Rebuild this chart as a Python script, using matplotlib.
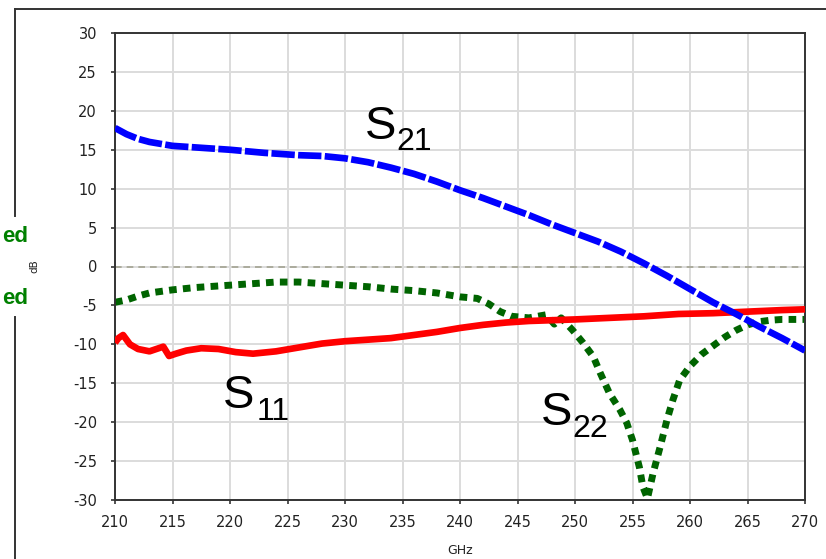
import matplotlib

matplotlib.use("Agg")
import matplotlib.pyplot as plt
from matplotlib.lines import Line2D

# S21 (blue, dashed)
s21_f = [210, 211, 212, 213, 215, 217, 220, 223, 226, 228, 230, 232, 234, 236,
         238, 240, 242, 244, 246, 248, 250, 252, 254, 256, 258, 260, 262, 264,
         266, 268, 270]
s21_db = [17.8, 17.0, 16.4, 16.0, 15.5, 15.3, 15.0, 14.6, 14.3, 14.2, 13.9, 13.4,
          12.7, 11.9, 10.9, 9.8, 8.8, 7.7, 6.6, 5.4, 4.3, 3.2, 1.9, 0.4, -1.2,
          -2.9, -4.6, -6.1, -7.7, -9.2, -10.8]

# S11 (red, solid)
s11_f = [210, 210.3, 210.7, 211.3, 212, 213, 214.2, 214.7, 215.3, 216.2, 217.5,
         219, 220.5, 222, 224, 226, 228, 230, 232, 234, 236, 238, 240, 242, 244,
         246, 248, 250, 253, 256, 259, 262, 265, 268, 270]
s11_db = [-9.8, -9.2, -8.8, -10.0, -10.6, -10.9, -10.3, -11.5, -11.2, -10.8, -10.5,
          -10.6, -11.0, -11.2, -10.9, -10.4, -9.9, -9.6, -9.4, -9.2, -8.8, -8.4, -7.9,
          -7.5, -7.2, -7.0, -6.9, -6.8, -6.6, -6.4, -6.1, -6.0, -5.8, -5.6, -5.5]

# S22 (green, dotted)
s22_f = [210, 211, 212, 213, 215, 217, 220, 222, 224, 226, 228, 230, 232, 234,
         236, 238, 240, 241.5, 242.5, 243.5, 244.5, 246, 247.5, 248.2, 248.8,
         249.8, 250.7, 251.6, 252.2, 253, 253.9, 254.5, 255, 255.6, 255.9, 256.3,
         256.8, 257.4, 258, 258.5, 259.1, 260, 261, 262, 263, 264, 265, 266, 267,
         268, 269, 270]
s22_db = [-4.6, -4.3, -3.8, -3.4, -3.0, -2.7, -2.4, -2.2, -2.0, -2.0, -2.2, -2.4,
          -2.6, -2.9, -3.1, -3.4, -3.9, -4.1, -4.8, -5.8, -6.4, -6.6, -6.2, -7.4,
          -6.6, -8.2, -9.8, -11.6, -13.7, -16.3, -18.4, -20.1, -22.3, -25.8, -28.3,
          -29.8, -26.5, -23.2, -19.7, -17.2, -14.6, -12.8, -11.3, -10.2, -9.1, -8.2,
          -7.5, -7.1, -6.9, -6.8, -6.8, -6.8]

x_ticks = list(range(210, 271, 5))
y_ticks = list(range(-30, 31, 5))

# curve labels: (main letter position, subscript position, subscript text)
labels = [
    ((231.7, 16.4), (234.5, 14.95), "21"),
    ((219.4, -18.2), (222.3, -19.7), "11"),
    ((247.0, -20.4), (249.8, -21.9), "22"),
]

plt.rcParams["font.family"] = "DejaVu Sans"
plt.rcParams["axes.unicode_minus"] = False

fig = plt.figure(figsize=(8.26, 5.59), dpi=100)
ax = fig.add_axes([115 / 826, 1 - 500 / 559, 690 / 826, 467 / 559])

ax.set_xlim(210, 270)
ax.set_ylim(-30, 30)
ax.set_xticks(x_ticks)
ax.set_yticks(y_ticks)
ax.grid(True, color="#dcdcdc", lw=1.4)
ax.set_axisbelow(True)
for sp in ax.spines.values():
    sp.set_color("#333333")
    sp.set_linewidth(1.4)
ax.tick_params(direction="out", length=3, width=1.2, color="#333333",
               labelsize=10.5, labelcolor="#222222")
ax.tick_params(axis="x", pad=8)
ax.tick_params(axis="y", pad=10)

ax.axhline(0, color="#a3a392", lw=1.2, dashes=(4, 3), zorder=1.5)

ax.plot(s22_f, s22_db, color="#006400", lw=5.0, dashes=(1.1, 0.9), zorder=2)
ax.plot(s11_f, s11_db, color="#ff0000", lw=4.8, solid_capstyle="butt", zorder=3)
ax.plot(s21_f, s21_db, color="#0000ff", lw=4.8, dashes=(3.5, 0.5), zorder=4)

for (sx, sy), (bx, by), sub in labels:
    ax.text(sx, sy, "S", fontsize=34, family="Liberation Sans", color="black",
            va="baseline", ha="left", zorder=5)
    ax.text(bx, by, sub, fontsize=23, family="Liberation Sans", color="black",
            va="baseline", ha="left", zorder=5)

fig.text(34 / 826, 1 - 266 / 559, "dB", rotation=90, fontsize=7.5,
         color="#222222", ha="center", va="center")
fig.text(460 / 826, 1 - 550 / 559, "GHz", fontsize=9, color="#222222",
         ha="center", va="center")

# cropped outer frame and the visible ends of the legend words at the left edge
fig.add_artist(Line2D([15 / 826, 1.0], [1 - 9 / 559] * 2, color="#333333", lw=1.4))
fig.add_artist(Line2D([15 / 826] * 2, [1 - 9 / 559, 1 - 216 / 559], color="#333333", lw=1.4))
fig.add_artist(Line2D([15 / 826] * 2, [1 - 317 / 559, 0.0], color="#333333", lw=1.4))
fig.text(28 / 826, 1 - 236 / 559, "ed", ha="right", va="center", fontsize=16,
         fontweight="bold", family="Liberation Sans", color="#008000")
fig.text(28 / 826, 1 - 299 / 559, "ed", ha="right", va="center", fontsize=16,
         fontweight="bold", family="Liberation Sans", color="#008000")

fig.savefig("out.png", dpi=100)
